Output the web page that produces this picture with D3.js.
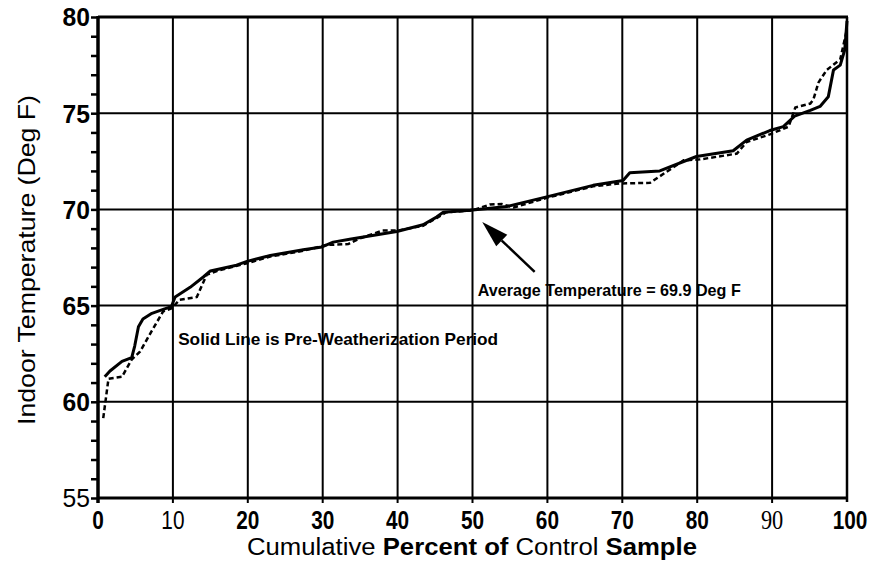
<!DOCTYPE html>
<html><head><meta charset="utf-8">
<script src="https://cdn.jsdelivr.net/npm/d3@7"></script>
<style>body{margin:0;background:#fff}svg{display:block}</style>
</head><body>
<svg id="c" width="878" height="570"></svg>
<script>
const xTicks = [0,10,20,30,40,50,60,70,80,90,100];
const xTickStyle = ["b","n","b","b","b","b","b","b","b","s","b"];
const yTicks = [55,60,65,70,75,80];
const pctPre = [0.9,1.6,3.2,4.5,4.9,5.4,6.0,7.2,8.7,9.8,10.3,12.3,14.1,15.0,18.5,19.9,23.0,27.4,29.9,31.4,33.6,39.9,43.4,45.2,46.1,49.7,54.6,59.9,66.1,70.1,71.0,75.0,79.9,84.8,86.6,89.7,91.5,93.0,95.1,96.4,97.5,98.2,99.1,99.7,100];
const tempPre = [61.3,61.6,62.1,62.3,62.9,63.9,64.3,64.6,64.8,64.95,65.45,65.95,66.5,66.8,67.1,67.3,67.6,67.9,68.05,68.3,68.45,68.85,69.2,69.6,69.85,69.95,70.15,70.65,71.25,71.5,71.9,72.0,72.75,73.05,73.6,74.1,74.3,74.85,75.15,75.35,75.85,77.25,77.5,78.3,79.8];
const pctPost = [0.7,1.4,3.2,4.5,5.6,7.2,8.7,9.8,10.9,13.2,14.5,16.3,19.9,23.0,27.4,30.5,33.4,35.0,38.0,40.0,43.4,45.2,46.5,50.0,52.3,53.9,55.5,59.9,66.1,69.7,73.7,78.2,80.4,85.3,86.6,89.7,92.2,93.1,95.1,95.5,96.2,97.3,99.1,99.9];
const tempPost = [59.15,61.2,61.3,62.2,62.6,63.7,64.7,64.85,65.3,65.45,66.6,66.85,67.2,67.55,67.85,68.15,68.2,68.5,68.9,68.9,69.15,69.55,69.85,69.95,70.25,70.28,70.1,70.6,71.2,71.35,71.38,72.55,72.6,72.9,73.5,73.9,74.3,75.3,75.5,75.7,76.6,77.25,77.8,79.2];
const avgTemp = 69.9;

const svg = d3.select("#c");
const L=98, R=847, T=17, B=498;
const x = d3.scaleLinear().domain([0,100]).range([L,R]);
const y = d3.scaleLinear().domain([55,80]).range([B,T]);
const FS = "'Liberation Sans', Arial, sans-serif";

// grid
const g = svg.append("g");
g.selectAll(".vg").data(xTicks.filter(d=>d>0&&d<100)).enter().append("line")
  .attr("x1",d=>x(d)).attr("x2",d=>x(d)).attr("y1",T).attr("y2",B+5)
  .attr("stroke","#000").attr("stroke-width",2);
g.selectAll(".hg").data(yTicks.filter(d=>d>55&&d<80)).enter().append("line")
  .attr("x1",L).attr("x2",R).attr("y1",d=>y(d)).attr("y2",d=>y(d))
  .attr("stroke","#000").attr("stroke-width",2);
// border
g.append("line").attr("x1",L).attr("x2",R+1).attr("y1",T).attr("y2",T).attr("stroke","#000").attr("stroke-width",3);
g.append("line").attr("x1",L).attr("x2",R+1).attr("y1",B).attr("y2",B).attr("stroke","#000").attr("stroke-width",3);
g.append("line").attr("x1",R).attr("x2",R).attr("y1",T).attr("y2",B+4).attr("stroke","#000").attr("stroke-width",2.5);
g.append("line").attr("x1",L).attr("x2",L).attr("y1",T-1).attr("y2",B+5).attr("stroke","#000").attr("stroke-width",3.5);

// y axis ticks
const yAxis = d3.axisLeft(y).ticks(25).tickSize(7).tickFormat("");
const ya = svg.append("g").attr("transform",`translate(${L},0)`).call(yAxis);
ya.select(".domain").remove();
ya.selectAll("line").attr("stroke","#000").attr("stroke-width",2.5);

// y tick labels
svg.selectAll(".yl").data(yTicks).enter().append("text")
  .attr("transform",d=>`translate(${L-8},${y(d)}) scale(0.95,1)`).attr("dy","0.36em")
  .attr("text-anchor","end").attr("font-family",FS)
  .attr("font-weight",d=>d===55?"normal":"bold").attr("font-size",26)
  .text(d=>d);

// x tick labels
svg.selectAll(".xl").data(xTicks).enter().append("text")
  .attr("transform",d=>`translate(${x(d)+(d===100?3:0)},529) scale(0.8,1)`)
  .attr("text-anchor","middle")
  .attr("font-family",(d,i)=>xTickStyle[i]==="s"?"'Liberation Serif', serif":FS)
  .attr("font-weight",(d,i)=>xTickStyle[i]==="b"?"bold":"normal")
  .attr("font-size",(d,i)=>xTickStyle[i]==="s"?28:26)
  .text(d=>d);

// axis titles
const xt = svg.append("text").attr("x",(247+697)/2).attr("y",555).attr("text-anchor","middle")
  .attr("font-family",FS).attr("font-size",23)
  .attr("textLength",450).attr("lengthAdjust","spacingAndGlyphs");
xt.append("tspan").text("Cumulative ");
xt.append("tspan").attr("font-weight","bold").text("Percent of ");
xt.append("tspan").text("Control ");
xt.append("tspan").attr("font-weight","bold").text("Sample");

svg.append("text").attr("transform",`translate(35,${(95+425)/2}) rotate(-90)`)
  .attr("text-anchor","middle").attr("font-family",FS).attr("font-size",24)
  .attr("textLength",330).attr("lengthAdjust","spacingAndGlyphs")
  .text("Indoor Temperature (Deg F)");

// curves
const line = d3.line().x(d=>x(d[0])).y(d=>y(d[1]));
const pre = pctPre.map((p,i)=>[p,tempPre[i]]);
const post = pctPost.map((p,i)=>[p,tempPost[i]]);
svg.append("path").attr("d",line(post)).attr("fill","none").attr("stroke","#000")
  .attr("stroke-width",2.5).attr("stroke-dasharray","5,3");
svg.append("path").attr("d",line(pre)).attr("fill","none").attr("stroke","#000")
  .attr("stroke-width",3).attr("stroke-linejoin","round");

// annotations
svg.append("text").attr("x",x(10.7)).attr("y",y(62.95))
  .attr("font-family",FS).attr("font-weight","bold").attr("font-size",17)
  .attr("textLength",320).attr("lengthAdjust","spacingAndGlyphs")
  .text("Solid Line is Pre-Weatherization Period");
svg.append("text").attr("x",x(50.7)).attr("y",y(65.5))
  .attr("font-family",FS).attr("font-weight","bold").attr("font-size",17)
  .attr("textLength",263).attr("lengthAdjust","spacingAndGlyphs")
  .text(`Average Temperature = ${avgTemp} Deg F`);

// arrow
const tip=[x(51.3),y(69.35)], tail=[x(58.3),y(66.75)];
const ang=Math.atan2(tail[1]-tip[1],tail[0]-tip[0]);
const hl=27, hw=8;
const bx=tip[0]+hl*Math.cos(ang), by=tip[1]+hl*Math.sin(ang);
svg.append("line").attr("x1",bx).attr("y1",by).attr("x2",tail[0]).attr("y2",tail[1])
  .attr("stroke","#000").attr("stroke-width",2.5);
svg.append("path").attr("d",`M${tip[0]},${tip[1]}L${bx-hw*Math.sin(ang)},${by+hw*Math.cos(ang)}L${bx+hw*Math.sin(ang)},${by-hw*Math.cos(ang)}Z`)
  .attr("fill","#000");
</script>
</body></html>
